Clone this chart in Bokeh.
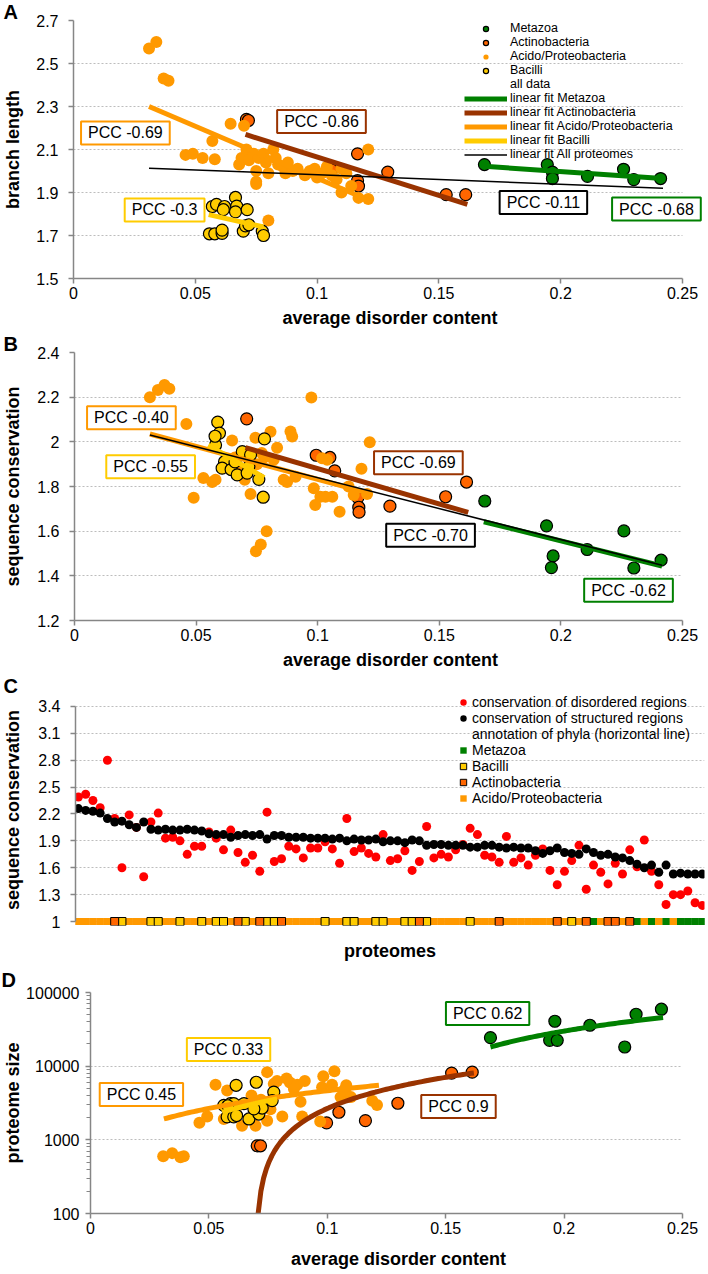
import numpy as np
from bokeh.plotting import figure
from bokeh.layouts import column
from bokeh.models import (Label, Legend, LegendItem, FixedTicker,
                          CustomJSTickFormatter, ColumnDataSource)
from bokeh.embed import file_html
from bokeh.resources import INLINE

FONT = "Liberation Sans"
GREEN = "#008000"
ACT = "#FF6600"
ACI = "#FF9900"
BAC = "#FFCC00"
ACT_FIT = "#993300"
AXIS = "#868686"
GRID = "#BDBDBD"

# ---------------- Panel A: branch length vs disorder ----------------
a_meta_x = [0.1687, 0.1945, 0.1966, 0.1966, 0.211, 0.2258, 0.230, 0.241]
a_meta_y = [2.03, 2.03, 1.995, 1.965, 1.975, 2.008, 1.96, 1.965]
a_act_x = [0.0710, 0.0718, 0.106, 0.1166, 0.1166, 0.117, 0.129, 0.153, 0.161]
a_act_y = [2.24, 2.235, 2.005, 2.08, 1.955, 1.93, 1.995, 1.89, 1.89]
a_aci_x = [0.031, 0.034, 0.037, 0.039, 0.046, 0.049, 0.053, 0.058, 0.057, 0.0645,
           0.070, 0.068, 0.069, 0.071, 0.072, 0.074, 0.075, 0.075, 0.076, 0.075,
           0.078, 0.079, 0.080, 0.080, 0.082, 0.083, 0.084, 0.086, 0.087, 0.088,
           0.090, 0.092, 0.095, 0.097, 0.099, 0.100, 0.102, 0.104, 0.106, 0.108,
           0.110, 0.110, 0.112, 0.114, 0.117, 0.121, 0.121]
a_aci_y = [2.57, 2.60, 2.43, 2.42, 2.075, 2.08, 2.06, 2.055, 2.14, 2.22,
           2.21, 2.03, 2.06, 2.10, 2.05, 2.08, 1.95, 2.00, 2.06, 1.94,
           2.08, 2.04, 1.99, 1.77, 2.10, 2.06, 2.03, 2.02, 1.99, 2.04,
           2.00, 2.01, 1.98, 2.00, 2.01, 1.97, 1.99, 2.02, 1.98, 1.96,
           2.01, 1.90, 1.99, 1.93, 1.875, 1.87, 2.10]
a_bac_x = [0.057, 0.0587, 0.062, 0.0615, 0.0665, 0.067, 0.0665, 0.0713, 0.0558,
           0.058, 0.061, 0.061, 0.0697, 0.0706, 0.072, 0.0775, 0.078]
a_bac_y = [1.835, 1.845, 1.835, 1.82, 1.877, 1.837, 1.81, 1.82, 1.708,
           1.708, 1.71, 1.725, 1.72, 1.745, 1.75, 1.72, 1.70]
# linear fits (end points)
a_fit_meta = ([0.1687, 0.2418], [2.022, 1.965])
a_fit_act = ([0.0706, 0.1617], [2.17, 1.845])
a_fit_aci = ([0.031, 0.121], [2.30, 1.865])
a_fit_bac = ([0.0555, 0.078], [1.797, 1.74])
a_fit_all = ([0.031, 0.242], [2.013, 1.92])

# ---------------- Panel B: sequence conservation vs disorder ----------------
b_meta_x = [0.1687, 0.1941, 0.1968, 0.1961, 0.2108, 0.2259, 0.230, 0.2412]
b_meta_y = [1.735, 1.624, 1.489, 1.437, 1.518, 1.601, 1.435, 1.47]
b_act_x = [0.0708, 0.0994, 0.105, 0.107, 0.1165, 0.1169, 0.117, 0.1297, 0.1526, 0.1612]
b_act_y = [2.103, 1.94, 1.93, 1.87, 1.75, 1.707, 1.685, 1.712, 1.754, 1.82]
b_aci_x = [0.031, 0.0343, 0.037, 0.039, 0.046, 0.049, 0.053, 0.0566, 0.058, 0.0648,
           0.0724, 0.0744, 0.0806, 0.0833, 0.0819, 0.0874, 0.086, 0.0888, 0.0895, 0.0909,
           0.0974, 0.0984, 0.099, 0.1011, 0.1032, 0.106, 0.1018, 0.1039, 0.109, 0.118,
           0.1214, 0.1127, 0.1148, 0.1203, 0.079, 0.0766, 0.0746, 0.066, 0.068, 0.070,
           0.075, 0.077, 0.078]
b_aci_y = [2.20, 2.232, 2.255, 2.238, 2.08, 1.75, 1.838, 1.82, 1.83, 2.006,
           1.766, 2.018, 2.045, 1.973, 1.92, 1.82, 1.83, 2.046, 2.024, 1.844,
           2.198, 1.792, 1.717, 1.754, 1.754, 1.754, 1.927, 1.92, 1.687, 1.88,
           1.998, 1.80, 1.762, 1.766, 1.60, 1.54, 1.51, 1.93, 1.87, 1.83,
           1.90, 1.95, 1.93]
b_bac_x = [0.0589, 0.0596, 0.058, 0.0617, 0.0607, 0.0644, 0.0669, 0.066, 0.069,
           0.0717, 0.0724, 0.0758, 0.0781, 0.0776, 0.071, 0.0578]
b_bac_y = [2.088, 2.039, 1.986, 1.911, 1.882, 1.876, 1.852, 1.91, 1.956,
           1.889, 1.942, 1.832, 2.013, 1.752, 1.86, 2.025]
b_fit_meta = ([0.1683, 0.2416], [1.642, 1.444])
b_fit_act = ([0.0703, 0.1619], [1.974, 1.684])
b_fit_aci = ([0.031, 0.121], [2.035, 1.77])
b_fit_bac = ([0.055, 0.078], [1.985, 1.84])
b_fit_all = ([0.031, 0.2416], [2.031, 1.447])

# ---------------- Panel C: conservation per proteome ----------------
c_disordered = [2.39, 2.42, 2.35, 2.27, 2.80, 2.15, 1.60, 2.19, 2.05, 1.50,
                2.11, 2.21, 1.93, 1.94, 1.90, 1.75, 1.84, 1.84, 2.00, 1.93,
                1.80, 2.02, 1.77, 1.66, 1.74, 1.56, 2.22, 1.67, 1.70, 1.84,
                1.81, 1.71, 1.82, 1.82, 1.89, 1.81, 1.65, 2.15, 1.78, 1.82,
                1.76, 1.72, 1.97, 1.68, 1.70, 1.79, 1.57, 1.67, 2.06, 1.71,
                1.75, 1.72, 1.80, 1.86, 2.04, 1.97, 1.74, 1.72, 1.66, 1.95,
                1.66, 1.71, 1.63, 1.74, 1.81, 1.57, 1.41, 1.56, 1.68, 1.85,
                1.36, 1.63, 1.55, 1.42, 1.65, 1.53, 1.80, 1.61, 1.91, 1.56,
                1.41, 1.19, 1.30, 1.30, 1.34, 1.21, 1.18]
c_structured = [2.26, 2.24, 2.23, 2.21, 2.15, 2.11, 2.12, 2.08, 2.05, 2.11,
                2.03, 2.02, 2.03, 2.02, 2.02, 2.03, 2.02, 2.01, 1.98, 1.97,
                1.97, 1.94, 1.96, 1.97, 1.96, 1.97, 1.92, 1.96, 1.96, 1.94,
                1.94, 1.94, 1.93, 1.93, 1.93, 1.92, 1.93, 1.90, 1.92, 1.91,
                1.91, 1.92, 1.89, 1.90, 1.90, 1.88, 1.91, 1.90, 1.85, 1.86,
                1.86, 1.85, 1.85, 1.85, 1.83, 1.83, 1.85, 1.85, 1.83, 1.82,
                1.83, 1.82, 1.82, 1.79, 1.76, 1.79, 1.82, 1.77, 1.76, 1.75,
                1.81, 1.77, 1.74, 1.75, 1.72, 1.71, 1.68, 1.64, 1.60, 1.63,
                1.55, 1.63, 1.53, 1.54, 1.53, 1.53, 1.53]
c_bacilli_idx = [6, 10, 11, 14, 17, 19, 20, 23, 26, 27, 34, 37, 38, 41, 42, 45, 46, 48, 54, 68]
c_actino_idx = [5, 22, 25, 28, 47, 58, 66, 70, 73, 74, 76]
c_metazoa_idx = [71, 77, 79, 81, 83, 84, 85, 86]
c_ticks = [1, 1.3, 1.6, 1.9, 2.2, 2.5, 2.8, 3.1, 3.4]

# ---------------- Panel D: proteome size vs disorder ----------------
d_meta_x = [0.1689, 0.1961, 0.1939, 0.1971, 0.2109, 0.2256, 0.2304, 0.2411]
d_meta_y = [24400, 40700, 22400, 22400, 35900, 18200, 50700, 59300]
d_act_x = [0.0704, 0.0718, 0.0997, 0.1049, 0.1161, 0.1298, 0.1525, 0.1612]
d_act_y = [830, 830, 1700, 2370, 1820, 3140, 8050, 8300]
d_aci_x = [0.0307, 0.0345, 0.038, 0.0394, 0.046, 0.0493, 0.0528, 0.0577, 0.0563, 0.064,
           0.0697, 0.0746, 0.0774, 0.0788, 0.0746, 0.081, 0.0828, 0.0842, 0.0873, 0.0859,
           0.0887, 0.0894, 0.0905, 0.0983, 0.0978, 0.102, 0.103, 0.097, 0.1056, 0.1077,
           0.107, 0.110, 0.121, 0.119, 0.108, 0.063, 0.068, 0.072, 0.076]
d_aci_y = [600, 660, 580, 600, 1700, 2070, 5580, 4680, 1920, 1550,
           1550, 8300, 5750, 6300, 1820, 2070, 6800, 6000, 5580, 4900,
           3300, 2070, 6300, 7300, 5190, 5580, 8500, 1780, 3800, 4900,
           4680, 3800, 2960, 3400, 5500, 3000, 4000, 3500, 2600]
d_bac_x = [0.0615, 0.070, 0.0563, 0.0591, 0.0605, 0.0577, 0.0605, 0.0617, 0.0669,
           0.0711, 0.0725, 0.0774, 0.0767, 0.0648, 0.069, 0.058]
d_bac_y = [5500, 6050, 2930, 3100, 3100, 2050, 2050, 2140, 1920,
           2240, 2700, 4440, 3400, 3100, 2630, 2900]
d_fit_meta = ([0.1689, 0.2418], [18200, 45700])
d_fit_act = ([0.0708, 0.1619], [100, 8100])
d_fit_aci = ([0.031, 0.1218], [1920, 5500])
d_fit_bac = ([0.0556, 0.0788], [2370, 3600])

x_ticks = [0, 0.05, 0.1, 0.15, 0.2, 0.25]
a_ticks = [1.5, 1.7, 1.9, 2.1, 2.3, 2.5, 2.7]
b_ticks = [1.2, 1.4, 1.6, 1.8, 2.0, 2.2, 2.4]
d_ticks = [100, 1000, 10000, 100000]
d_minor = [m * 10 ** e for e in (2, 3, 4) for m in range(2, 10)]

num_fmt = CustomJSTickFormatter(code="return String(parseFloat(tick.toFixed(4)));")


def make_fig(h, xr, yr, left, right, top, bottom, ylog=False):
    kw = dict(width=708, height=h, x_range=xr, y_range=yr, output_backend="svg",
              toolbar_location=None, min_border_left=left, min_border_right=right,
              min_border_top=top, min_border_bottom=bottom,
              background_fill_color="white", border_fill_color="white")
    if ylog:
        kw["y_axis_type"] = "log"
    p = figure(**kw)
    try:
        p.frame_align = False
    except Exception:
        pass
    p.outline_line_color = None
    p.xgrid.visible = False
    p.ygrid.grid_line_color = GRID
    p.ygrid.grid_line_dash = "2 2"
    for ax in (p.xaxis[0], p.yaxis[0]):
        ax.axis_line_color = AXIS
        ax.axis_line_width = 1.5
        ax.major_tick_line_color = AXIS
        ax.major_tick_line_width = 1.5
        ax.major_tick_in = 0
        ax.major_tick_out = 5
        ax.minor_tick_line_color = None
        ax.major_label_text_font = FONT
        ax.major_label_text_font_size = "16px"
        ax.major_label_text_color = "black"
        ax.axis_label_text_font = FONT
        ax.axis_label_text_font_size = "18px"
        ax.axis_label_text_font_style = "bold"
        ax.axis_label_text_color = "black"
    return p


def letter(p, text, offset, standoff):
    p.title.text = text
    p.title.align = "left"
    p.title.offset = offset
    try:
        p.title.standoff = standoff
    except Exception:
        p.title.standoff = 0
    p.title.text_font = FONT
    p.title.text_font_size = "20px"
    p.title.text_font_style = "bold"
    p.title.text_color = "black"


def limit_grid(p, x0, x1):
    try:
        p.ygrid.cross_bounds = (x0, x1)
    except Exception:
        pass


def pcc(p, x, y, text, color):
    p.add_layout(Label(x=x, y=y, text=text, text_align="center", text_baseline="middle",
                       text_font=FONT, text_font_size="16px", text_color="black",
                       border_line_color=color, border_line_width=2,
                       background_fill_color="white", padding=dict(x=7, y=3)))


def scatter_groups(p, meta, act, aci, bac, size=12):
    r1 = p.scatter(meta[0], meta[1], size=size, fill_color=GREEN, line_color="black", line_width=1.2)
    r2 = p.scatter(act[0], act[1], size=size, fill_color=ACT, line_color="black", line_width=1.2)
    r3 = p.scatter(aci[0], aci[1], size=size, fill_color=ACI, line_color=None)
    r4 = p.scatter(bac[0], bac[1], size=size, fill_color=BAC, line_color="black", line_width=1.2)
    return r1, r2, r3, r4


def fit_lines(p, fm, fa, fc, fb, fall=None, log=False):
    out = []
    for f, col in ((fm, GREEN), (fa, ACT_FIT), (fc, ACI), (fb, BAC)):
        if log:
            xs = np.linspace(f[0][0], f[0][1], 80)
            ys = np.interp(xs, f[0], f[1])
        else:
            xs, ys = f
        out.append(p.line(xs, ys, line_color=col, line_width=5))
    if fall is not None:
        out.append(p.line(fall[0], fall[1], line_color="black", line_width=1.5))
    return out


def x_axis(p, standoff):
    p.xaxis.ticker = FixedTicker(ticks=x_ticks)
    p.xaxis.formatter = num_fmt
    p.xaxis.major_label_standoff = 3
    p.xaxis.axis_label = "average disorder content"
    p.xaxis.axis_label_standoff = standoff
    p.xaxis.bounds = (0, 0.25)
    limit_grid(p, 0, 0.25)


# ---------- Figure A (page y 0..332) ----------
pA = make_fig(332, (0, 633 / 2436), (1.5, 2.7), 73, 2, 0, 54)
letter(pA, "A", -70, -4)
x_axis(pA, 6)
pA.yaxis.ticker = FixedTicker(ticks=a_ticks)
pA.yaxis.formatter = num_fmt
pA.yaxis.major_label_standoff = 10
pA.yaxis.axis_label = "branch length"
pA.yaxis.axis_label_standoff = 10
rA = scatter_groups(pA, (a_meta_x, a_meta_y), (a_act_x, a_act_y), (a_aci_x, a_aci_y), (a_bac_x, a_bac_y))
rA_blank = pA.scatter([], [], size=0, fill_alpha=0, line_alpha=0)
fA = fit_lines(pA, a_fit_meta, a_fit_act, a_fit_aci, a_fit_bac, a_fit_all)
pcc(pA, 0.0213, 2.177, "PCC -0.69", ACI)
pcc(pA, 0.1018, 2.23, "PCC -0.86", ACT_FIT)
pcc(pA, 0.0374, 1.819, "PCC -0.3", BAC)
pcc(pA, 0.1929, 1.854, "PCC -0.11", "black")
pcc(pA, 0.2393, 1.823, "PCC -0.68", GREEN)
legA = Legend(items=[
    LegendItem(label="Metazoa", renderers=[rA[0]]),
    LegendItem(label="Actinobacteria", renderers=[rA[1]]),
    LegendItem(label="Acido/Proteobacteria", renderers=[rA[2]]),
    LegendItem(label="Bacilli", renderers=[rA[3]]),
    LegendItem(label="all data", renderers=[rA_blank]),
    LegendItem(label="linear fit Metazoa", renderers=[fA[0]]),
    LegendItem(label="linear fit Actinobacteria", renderers=[fA[1]]),
    LegendItem(label="linear fit Acido/Proteobacteria", renderers=[fA[2]]),
    LegendItem(label="linear fit Bacilli", renderers=[fA[3]]),
    LegendItem(label="linear fit All proteomes", renderers=[fA[4]]),
], location=(391, 117), glyph_width=43, glyph_height=13, spacing=0, padding=0, margin=0,
    label_standoff=3, border_line_color=None, background_fill_alpha=0,
    label_text_font=FONT, label_text_font_size="12.5px", label_text_color="black",
    label_height=13)
pA.add_layout(legA)

# ---------- Figure B (page y 332..674) ----------
pB = make_fig(342, (0, 632 / 2432), (1.2, 2.4), 74, 2, 0, 54)
letter(pB, "B", -71, -4)
x_axis(pB, 6)
pB.yaxis.ticker = FixedTicker(ticks=b_ticks)
pB.yaxis.formatter = num_fmt
pB.yaxis.major_label_standoff = 10
pB.yaxis.axis_label = "sequence conservation"
pB.yaxis.axis_label_standoff = 11
scatter_groups(pB, (b_meta_x, b_meta_y), (b_act_x, b_act_y), (b_aci_x, b_aci_y), (b_bac_x, b_bac_y))
fit_lines(pB, b_fit_meta, b_fit_act, b_fit_aci, b_fit_bac, b_fit_all)
pcc(pB, 0.0234, 2.108, "PCC -0.40", ACI)
pcc(pB, 0.0313, 1.888, "PCC -0.55", BAC)
pcc(pB, 0.1414, 1.906, "PCC -0.69", ACT_FIT)
pcc(pB, 0.1464, 1.582, "PCC -0.70", "black")
pcc(pB, 0.2278, 1.335, "PCC -0.62", GREEN)

# ---------- Figure C (page y 674..963) ----------
n_prot = len(c_structured)
idx = list(range(n_prot))
c_acido_idx = [i for i in idx if i not in c_bacilli_idx + c_actino_idx + c_metazoa_idx]
pC = make_fig(289, (-0.4, 86.3), (1 - 4 / 90, 3.4 + 12 / 90), 75, 4, 0, 36)
letter(pC, "C", -72, -4)
pC.xaxis.ticker = FixedTicker(ticks=[])
pC.xaxis.major_tick_out = 0
pC.xaxis.major_label_standoff = 0
pC.xaxis.axis_line_color = None
pC.xaxis.axis_label = "proteomes"
pC.xaxis.axis_label_standoff = 15
pC.yaxis.ticker = FixedTicker(ticks=c_ticks)
pC.yaxis.formatter = num_fmt
pC.yaxis.bounds = (1, 3.4)
pC.yaxis.major_label_standoff = 10
pC.yaxis.axis_label = "sequence conservation"
pC.yaxis.axis_label_standoff = 12
rC_red = pC.scatter(idx, c_disordered, size=9, fill_color="#FF0000", line_color=None)
rC_blk = pC.scatter(idx, c_structured, size=9, fill_color="black", line_color=None)
seg_col = [GREEN if i in c_metazoa_idx else ACI for i in idx]
seg_src = ColumnDataSource(dict(x0=[i - 0.5 for i in idx], x1=[i + 0.5 for i in idx],
                                y=[1.0] * n_prot, c=seg_col))
pC.segment(x0="x0", x1="x1", y0="y", y1="y", line_color="c", line_width=7, source=seg_src)
rC_meta = pC.scatter(c_metazoa_idx, [1.0] * len(c_metazoa_idx), marker="square", size=7,
                     fill_color=GREEN, line_color=None)
rC_aci = pC.scatter(c_acido_idx, [1.0] * len(c_acido_idx), marker="square", size=7,
                    fill_color=ACI, line_color=None)
rC_bac = pC.scatter(c_bacilli_idx, [1.0] * len(c_bacilli_idx), marker="square", size=8,
                    fill_color=BAC, line_color="black", line_width=1)
rC_act = pC.scatter(c_actino_idx, [1.0] * len(c_actino_idx), marker="square", size=8,
                    fill_color=ACT, line_color="black", line_width=1)
rC_blank = pC.scatter([], [], size=0, fill_alpha=0, line_alpha=0)
legC = Legend(items=[
    LegendItem(label="conservation of disordered regions", renderers=[rC_red]),
    LegendItem(label="conservation of structured regions", renderers=[rC_blk]),
    LegendItem(label="annotation of phyla (horizontal line)", renderers=[rC_blank]),
    LegendItem(label="Metazoa", renderers=[rC_meta]),
    LegendItem(label="Bacilli", renderers=[rC_bac]),
    LegendItem(label="Actinobacteria", renderers=[rC_act]),
    LegendItem(label="Acido/Proteobacteria", renderers=[rC_aci]),
], location=(379, 119), glyph_width=18, glyph_height=16, spacing=0, padding=0, margin=0,
    label_standoff=0, border_line_color=None, background_fill_alpha=0,
    label_text_font=FONT, label_text_font_size="14px", label_text_color="black",
    label_height=15)
pC.add_layout(legC)

# ---------- Figure D (page y 963..1273) ----------
pD = make_fig(310, (0, 0.25 * 616 / 592), (100, 100000), 90, 2, 29, 60, ylog=True)
letter(pD, "D", -89, 4)
x_axis(pD, 12)
pD.yaxis.ticker = FixedTicker(ticks=d_ticks, minor_ticks=d_minor)
pD.yaxis.formatter = CustomJSTickFormatter(code="return tick.toFixed(0);")
pD.yaxis.minor_tick_line_color = AXIS
pD.yaxis.minor_tick_in = 0
pD.yaxis.minor_tick_out = 4
pD.yaxis.major_label_standoff = 6
pD.yaxis.axis_label = "proteome size"
pD.yaxis.axis_label_standoff = 0
scatter_groups(pD, (d_meta_x, d_meta_y), (d_act_x, d_act_y), (d_aci_x, d_aci_y), (d_bac_x, d_bac_y))
fit_lines(pD, d_fit_meta, d_fit_act, d_fit_aci, d_fit_bac, None, log=True)
pcc(pD, 0.0583, 16900, "PCC 0.33", BAC)
pcc(pD, 0.0215, 4130, "PCC 0.45", ACI)
pcc(pD, 0.1677, 51900, "PCC 0.62", GREEN)
pcc(pD, 0.1554, 2840, "PCC 0.9", ACT_FIT)

layout = column(pA, pB, pC, pD, spacing=0)
open("out.html", "w").write(file_html(layout, INLINE))
